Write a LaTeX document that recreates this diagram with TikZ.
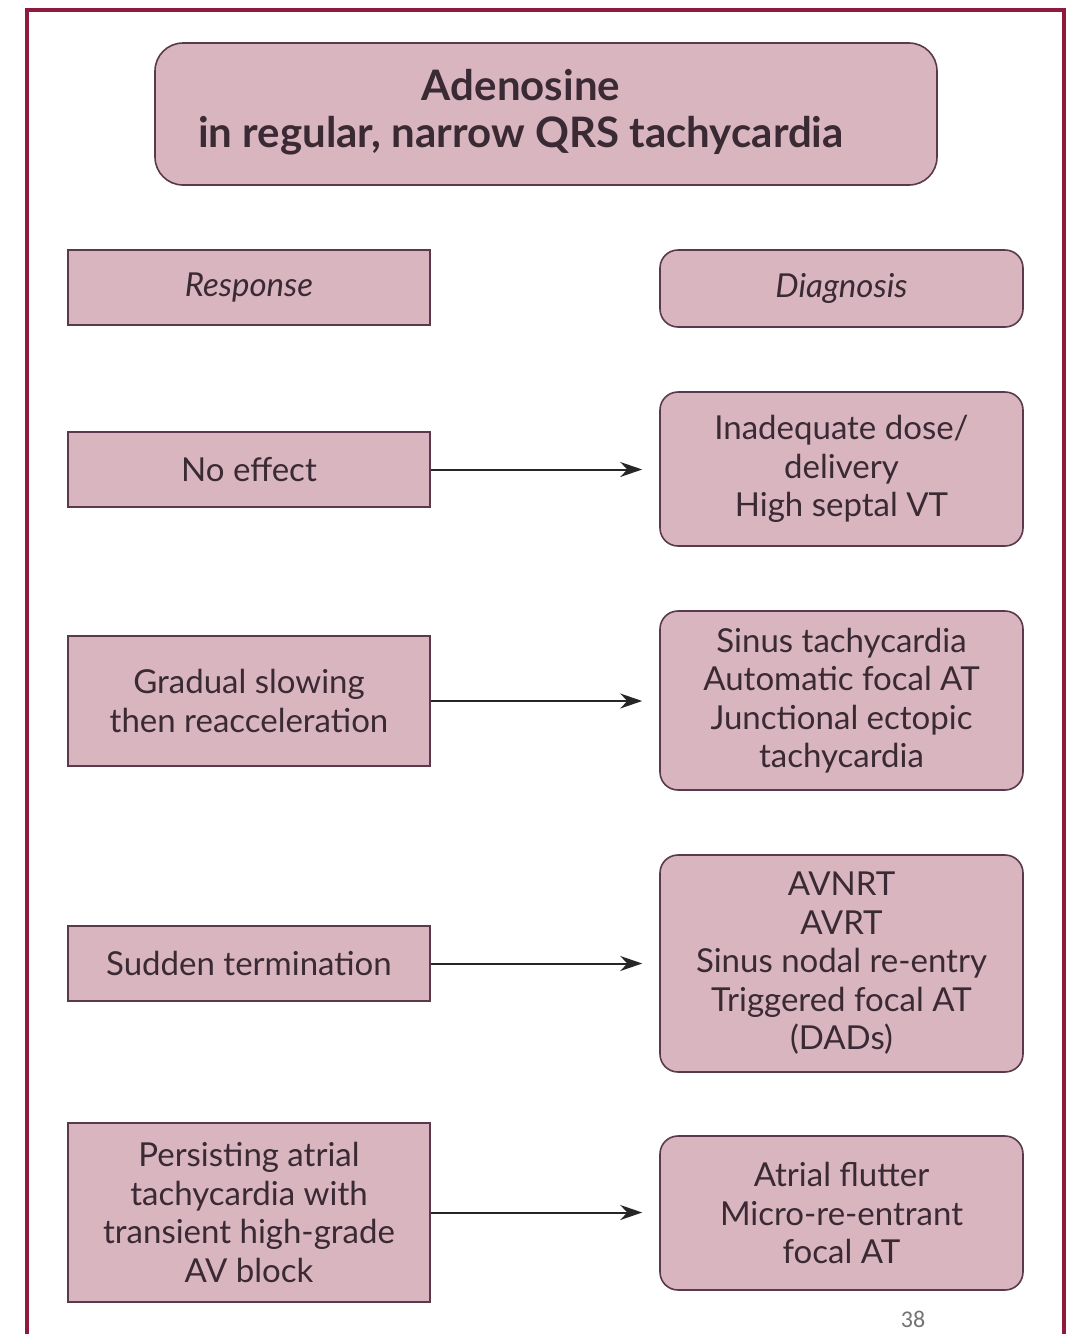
\documentclass[tikz,border=0pt]{standalone}
\usepackage{fontspec}
\setmainfont{Lato}
\newfontfamily\pagefont{Carlito}
\usetikzlibrary{arrows.meta}
\definecolor{framec}{HTML}{8E1B3E}
\definecolor{boxfill}{HTML}{D9B5C0}
\definecolor{boxedge}{HTML}{5A3A4A}
\definecolor{inkc}{HTML}{3A2A33}
\begin{document}
\begin{tikzpicture}[x=1pt,y=-1pt,
  every node/.style={text=inkc},
  basebox/.style={draw=boxedge, fill=boxfill, line width=1.6pt, inner sep=0pt,
    align=center, font=\fontsize{33}{38.5}\selectfont},
  respbox/.style={basebox, rectangle, minimum width=362pt},
  diagbox/.style={basebox, rectangle, rounded corners=18pt, minimum width=363pt},
  link/.style={line width=2pt, draw=black!85, -{Stealth[length=22pt,width=15pt]}, shorten >=17pt}
]
\useasboundingbox (0,0) rectangle (1068,1334);
\fill[white] (0,0) rectangle (1068,1334);
% outer frame, open past the lower edge
\draw[framec, line width=4pt] (27,1350) -- (27,10) -- (1064,10) -- (1064,1350);

% title
\node[basebox, rounded corners=28pt, minimum width=782pt, minimum height=142pt] (title) at (546,114) {};
\node[align=center, inner sep=0pt, font=\fontsize{42}{47}\selectfont\bfseries] (titletext) at (521,112)
  {Adenosine\\in regular, narrow QRS tachycardia};

% column heads
\node[respbox, minimum height=75pt, font=\fontsize{33}{38.5}\selectfont\itshape] (resp) at (249,287.5) {Response};
\node[diagbox, minimum height=77pt, font=\fontsize{33}{38.5}\selectfont\itshape] (diag) at (841.5,288.5) {Diagnosis};

% responses
\node[respbox, minimum height=75pt] (r1) at (249,469.5) {No effect};
\node[respbox, minimum height=130pt] (r2) at (249,701) {Gradual slowing\\then reacceleration};
\node[respbox, minimum height=75pt] (r3) at (249,963.5) {Sudden termination};
\node[respbox, minimum height=179pt] (r4) at (249,1212.5) {Persisting atrial\\tachycardia with\\transient high-grade\\AV block};

% diagnoses
\node[diagbox, minimum height=154pt] (d1) at (841.5,469) {Inadequate dose/\\delivery\\High septal VT};
\node[diagbox, minimum height=179pt] (d2) at (841.5,700.5) {Sinus tachycardia\\Automatic focal AT\\Junctional ectopic\\tachycardia};
\node[diagbox, minimum height=217pt] (d3) at (841.5,963.5) {AVNRT\\AVRT\\Sinus nodal re-entry\\Triggered focal AT\\(DADs)};
\node[diagbox, minimum height=154pt] (d4) at (841.5,1213) {Atrial flutter\\Micro-re-entrant\\focal AT};

% connectors
\draw[link] (r1.east) -- (r1.east -| d1.west);
\draw[link] (r2.east) -- (r2.east -| d2.west);
\draw[link] (r3.east) -- (r3.east -| d3.west);
\draw[link] (r4.east) -- (r4.east -| d4.west);

% page number
\node[text=black!55, font=\pagefont\fontsize{24}{26}\selectfont, anchor=south, inner sep=0pt] (pg) at (913,1328) {38};
\end{tikzpicture}
\end{document}
